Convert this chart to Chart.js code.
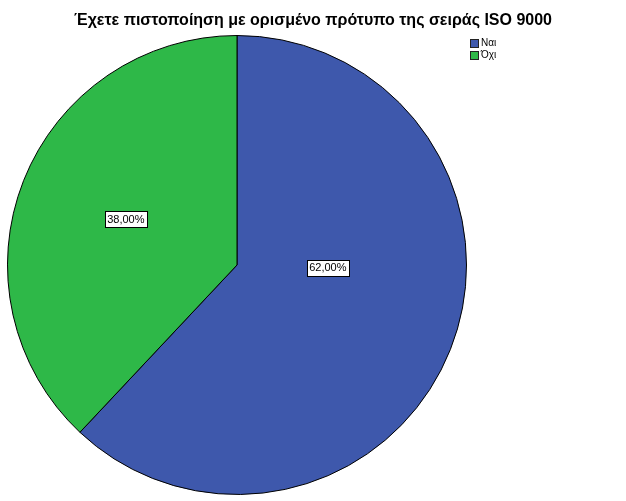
<!DOCTYPE html>
<html>
<head>
<meta charset="utf-8">
<script src="https://cdn.jsdelivr.net/npm/chart.js@4/dist/chart.umd.min.js"></script>
<style>
  html, body { margin: 0; padding: 0; background: #fff; }
  #wrap { width: 626px; height: 501px; }
</style>
</head>
<body>
<div id="wrap"><canvas id="pieChart" width="626" height="501"></canvas></div>
<script>
// Δεδομένα
const titleText = 'Έχετε πιστοποίηση με ορισμένο πρότυπο της σειράς ISO 9000';
const categories = ['Ναι', 'Όχι'];
const percentages = [62.0, 38.0];
const sliceColors = ['#3E58AC', '#2EB848'];

// label placement: radius fraction and angle tweak (degrees) per slice
const labelRadius = [0.396, 0.524];
const labelAngleShift = [-20, 0.8];

const fontFamily = "'Liberation Sans', Arial, sans-serif";

const whiteBg = {
  id: 'whiteBg',
  beforeDraw(chart) {
    const c = chart.ctx;
    c.save();
    c.fillStyle = '#fff';
    c.fillRect(0, 0, chart.width, chart.height);
    c.restore();
  }
};

// title + legend drawn by hand (SPSS style)
const spssDecor = {
  id: 'spssDecor',
  afterDraw(chart) {
    const c = chart.ctx;
    c.save();
    c.fillStyle = '#000';
    c.font = 'bold 16px ' + fontFamily;
    c.textAlign = 'center';
    c.textBaseline = 'middle';
    c.fillText(titleText, chart.width / 2, 21);

    c.font = '10px ' + fontFamily;
    c.textAlign = 'left';
    chart.data.labels.forEach((lab, i) => {
      const y = 39 + i * 12;
      c.fillStyle = chart.data.datasets[0].backgroundColor[i];
      c.fillRect(470.5, y + 0.5, 8, 8);
      c.strokeStyle = '#222';
      c.lineWidth = 1;
      c.strokeRect(470.5, y + 0.5, 8, 8);
      c.fillStyle = '#000';
      c.fillText(lab, 481, y + 4.5);
    });
    c.restore();
  }
};

// percentage labels in white boxes
const sliceLabels = {
  id: 'sliceLabels',
  afterDatasetsDraw(chart) {
    const c = chart.ctx;
    const meta = chart.getDatasetMeta(0);
    c.save();
    c.font = '11px ' + fontFamily;
    c.textAlign = 'center';
    c.textBaseline = 'middle';
    meta.data.forEach((arc, i) => {
      const p = arc.getProps(['x', 'y', 'startAngle', 'endAngle', 'outerRadius'], true);
      const mid = (p.startAngle + p.endAngle) / 2 + labelAngleShift[i] * Math.PI / 180;
      const r = p.outerRadius * labelRadius[i];
      const x = p.x + Math.cos(mid) * r;
      const y = p.y + Math.sin(mid) * r;
      const txt = chart.data.datasets[0].data[i].toFixed(2).replace('.', ',') + '%';
      const w = c.measureText(txt).width + 5;
      const h = 16;
      c.fillStyle = '#fff';
      c.fillRect(Math.round(x - w / 2) + 0.5, Math.round(y - h / 2) + 0.5, Math.round(w), h);
      c.strokeStyle = '#000';
      c.lineWidth = 1;
      c.strokeRect(Math.round(x - w / 2) + 0.5, Math.round(y - h / 2) + 0.5, Math.round(w), h);
      c.fillStyle = '#000';
      c.fillText(txt, x, y + 0.5);
    });
    c.restore();
  }
};

window.addEventListener('DOMContentLoaded', function () {
  new Chart(document.getElementById('pieChart'), {
    type: 'pie',
    data: {
      labels: categories,
      datasets: [{
        data: percentages,
        backgroundColor: sliceColors,
        borderColor: '#000',
        borderWidth: 1,
      }],
    },
    options: {
      responsive: false,
      animation: false,
      devicePixelRatio: 1,
      layout: { padding: { left: 7, right: 159, top: 34, bottom: 5 } },
      plugins: {
        legend: { display: false },
        title: { display: false },
        tooltip: { enabled: false },
      },
    },
    plugins: [whiteBg, sliceLabels, spssDecor],
  });
});
</script>
</body>
</html>
